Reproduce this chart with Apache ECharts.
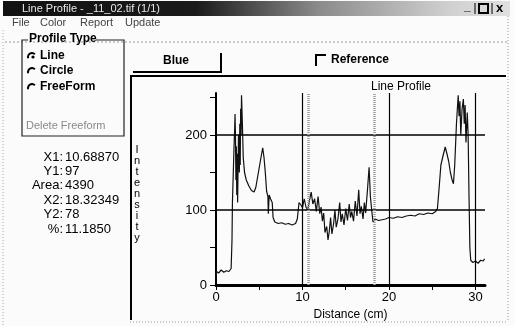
<!DOCTYPE html>
<html>
<head>
<meta charset="utf-8">
<script src="https://cdn.jsdelivr.net/npm/echarts@6/dist/echarts.min.js"></script>
<style>
  html, body { margin: 0; padding: 0; background: #fbfbfb; }
  #chart { width: 515px; height: 326px; }
</style>
</head>
<body>
<div id="chart"></div>
<script>
// profile data
const distance = [0.0, 0.05, 0.3, 0.6, 0.9, 1.2, 1.5, 1.75, 1.85, 1.9,
  2.0, 2.1, 2.15, 2.2, 2.25, 2.3, 2.35, 2.4, 2.45, 2.5,
  2.6, 2.7, 2.75, 2.8, 2.85, 2.9, 2.95, 3.05, 3.15, 3.3,
  3.5, 3.8, 4.1, 4.4, 4.6, 4.9, 5.2, 5.4, 5.55, 5.7,
  5.85, 6.0, 6.05, 6.15, 6.3, 6.5, 6.6, 6.8, 7.2, 7.6,
  8.0, 8.4, 8.8, 9.2, 9.4, 9.6, 9.8, 10.0, 10.2, 10.4,
  10.6, 10.8, 11.0, 11.2, 11.4, 11.6, 11.8, 12.0, 12.15, 12.3,
  12.45, 12.6, 12.8, 12.95, 13.1, 13.25, 13.4, 13.6, 13.75, 13.9,
  14.1, 14.3, 14.45, 14.6, 14.8, 15.0, 15.2, 15.4, 15.55, 15.7,
  15.9, 16.1, 16.3, 16.5, 16.65, 16.8, 17.0, 17.15, 17.3, 17.5,
  17.7, 17.85, 18.0, 18.15, 18.4, 18.8, 19.2, 19.6, 20.0, 20.5,
  21.0, 21.5, 22.0, 22.5, 23.0, 23.5, 24.0, 24.5, 25.0, 25.4,
  25.6, 25.8, 26.0, 26.2, 26.5, 26.7, 26.9, 27.1, 27.3, 27.45,
  27.6, 27.8, 28.0, 28.1, 28.2, 28.3, 28.45, 28.6, 28.7, 28.8,
  28.9, 29.05, 29.15, 29.25, 29.35, 29.45, 29.7, 30.0, 30.3, 30.6,
  30.9, 31.05];
const intensity = [8, 18, 16, 20, 17, 19, 18, 22, 60, 110,
  150, 190, 205, 228, 200, 140, 185, 120, 175, 110,
  200, 150, 215, 160, 235, 200, 253, 215, 170, 150,
  140, 132, 126, 124, 130, 150, 170, 183, 170, 150,
  125, 118, 95, 120, 115, 110, 90, 84, 82, 83,
  81, 82, 80, 82, 88, 110, 107, 103, 115, 104,
  100, 112, 124, 108, 115, 98, 118, 95, 104, 85,
  96, 70, 78, 60, 72, 90, 68, 82, 100, 77,
  88, 110, 84, 95, 80, 102, 86, 108, 90, 98,
  85, 112, 92, 127, 95, 105, 88, 110, 96, 125,
  157, 118, 100, 84, 88, 86, 87, 88, 90, 89,
  91, 90, 92, 93, 92, 95, 94, 96, 95, 98,
  102, 130, 160, 170, 184, 175, 165, 150, 140, 135,
  160, 215, 253, 225, 245, 200, 235, 248, 215, 240,
  190, 230, 200, 120, 50, 33, 30, 32, 29, 33,
  32, 35];

const xLabels = [0, 10, 20, 30];
const yLabels = [0, 100, 200];
const xGrid = [10, 20, 30];
const yGrid = [100, 200];
const cursors = [10.68870, 18.32349];   // X1, X2

const infoNames = ['X1', 'Y1', 'Area', 'X2', 'Y2', '%'];
const infoValues = ['10.68870', '97', '4390', '18.32349', '78', '11.1850'];
const profileTypes = ['Line', 'Circle', 'FreeForm'];
const menuItems = ['File', 'Color', 'Report', 'Update'];

const chart = echarts.init(document.getElementById('chart'));

const font = '"Liberation Sans", Arial, sans-serif';
const narrow = '"Liberation Sans Narrow", "Liberation Sans", sans-serif';
const graphics = [];

// title bar
graphics.push({
  type: 'rect', shape: { x: 3, y: 1, width: 507, height: 15 },
  style: { fill: { type: 'linear', x: 0, y: 0, x2: 1, y2: 0,
    colorStops: [{ offset: 0, color: '#111' }, { offset: 0.38, color: '#1a1a1a' },
                 { offset: 0.62, color: '#8a8a8a' }, { offset: 0.88, color: '#d0d0d0' }, { offset: 1, color: '#e0e0e0' }] } }
});
graphics.push({ type: 'text', left: 22, top: 3,
  style: { text: 'Line Profile - _11_02.tif (1/1)', fill: '#e8e8e8', font: '11px ' + font } });
graphics.push({ type: 'text', left: 464, top: 1, style: { text: '_', fill: '#000', font: 'bold 12px ' + font } });
graphics.push({ type: 'rect', shape: { x: 479, y: 4, width: 9, height: 9 }, style: { fill: 'none', stroke: '#000', lineWidth: 2 } });
graphics.push({ type: 'text', left: 496, top: 2, style: { text: 'x', fill: '#000', font: 'bold 13px ' + font } });
graphics.push({ type: 'line', shape: { x1: 475, y1: 3, x2: 475, y2: 14 }, style: { stroke: '#000', lineWidth: 1 } });
graphics.push({ type: 'line', shape: { x1: 492, y1: 3, x2: 492, y2: 14 }, style: { stroke: '#000', lineWidth: 1 } });

// menu
const menuX = [12, 40, 80, 125];
menuItems.forEach((m, i) => {
  graphics.push({ type: 'text', left: menuX[i], top: 17, style: { text: m, fill: '#444', font: '11px ' + font } });
});
graphics.push({ type: 'line', shape: { x1: 5, y1: 42, x2: 508, y2: 42 }, style: { stroke: '#999', lineWidth: 1, lineDash: [2, 2] } });

// window borders (dotted)
graphics.push({ type: 'line', shape: { x1: 3, y1: 30, x2: 3, y2: 326 }, style: { stroke: '#aaa', lineWidth: 1, lineDash: [1, 2] } });
graphics.push({ type: 'line', shape: { x1: 508, y1: 16, x2: 508, y2: 322 }, style: { stroke: '#999', lineWidth: 1, lineDash: [1, 2] } });
graphics.push({ type: 'line', shape: { x1: 130, y1: 322, x2: 508, y2: 322 }, style: { stroke: '#999', lineWidth: 1, lineDash: [1, 2] } });

// Profile Type group box
graphics.push({ type: 'polyline', shape: { points: [[28, 40], [22, 40], [22, 136], [124, 136], [124, 40], [96, 40]] },
  style: { stroke: '#222', fill: 'none', lineWidth: 1.2 } });
graphics.push({ type: 'text', left: 29, top: 33, style: { text: 'Profile Type', fill: '#000', font: 'bold 12px ' + font } });
const radioY = [57, 72, 88];
profileTypes.forEach((p, i) => {
  graphics.push({ type: 'arc', shape: { cx: 32, cy: radioY[i], r: 4, startAngle: Math.PI * 0.9, endAngle: Math.PI * 1.75 },
    style: { stroke: '#000', lineWidth: 2, fill: 'none' } });
  if (i === 0) graphics.push({ type: 'circle', shape: { cx: 33, cy: radioY[i], r: 1.6 }, style: { fill: '#000' } });
  graphics.push({ type: 'text', left: 40, top: radioY[i] - 7, style: { text: p, fill: '#000', font: 'bold 12px ' + font } });
});
graphics.push({ type: 'text', left: 26, top: 120, style: { text: 'Delete Freeform', fill: '#888', font: '11px ' + font } });

// info values
infoNames.forEach((n, i) => {
  graphics.push({ type: 'text', x: 63, y: 157 + i * 14.4,
    style: { text: n + ':', fill: '#000', font: '13px ' + narrow, align: 'right', verticalAlign: 'middle' } });
  graphics.push({ type: 'text', x: 65, y: 157 + i * 14.4,
    style: { text: infoValues[i], fill: '#000', font: '13px ' + narrow, align: 'left', verticalAlign: 'middle' } });
});

// tab + reference checkbox + panel frame
graphics.push({ type: 'polyline', shape: { points: [[133, 72], [221, 72], [221, 53]] }, style: { stroke: '#000', fill: 'none', lineWidth: 2 } });
graphics.push({ type: 'text', x: 176, y: 61, style: { text: 'Blue', fill: '#000', font: 'bold 12px ' + font, align: 'center', verticalAlign: 'middle' } });
graphics.push({ type: 'polyline', shape: { points: [[316, 66], [316, 55], [326, 55]] }, style: { stroke: '#000', fill: 'none', lineWidth: 2 } });
graphics.push({ type: 'text', left: 331, top: 54, style: { text: 'Reference', fill: '#000', font: 'bold 12px ' + font } });
graphics.push({ type: 'polyline', shape: { points: [[131, 320], [131, 76], [506, 76]] }, style: { stroke: '#000', fill: 'none', lineWidth: 2 } });
graphics.push({ type: 'text', x: 137, y: 194,
  style: { text: 'Intensity'.split('').join('\n'), fill: '#000', font: '11px ' + font, align: 'center', verticalAlign: 'middle', lineHeight: 11 } });

const lineData = distance.map((d, i) => [d, intensity[i]]);

chart.setOption({
  animation: false,
  backgroundColor: '#fbfbfb',
  title: {
    text: 'Line Profile', left: 366, top: 76,
    textStyle: { fontSize: 12, fontWeight: 'normal', color: '#000', fontFamily: font }
  },
  grid: { left: 216, right: 30, top: 93, bottom: 41 },
  xAxis: {
    type: 'value', min: 0, max: 31.1, interval: 5,
    name: 'Distance (cm)', nameLocation: 'middle', nameGap: 22,
    nameTextStyle: { fontSize: 12, color: '#000', fontFamily: font },
    axisLine: { lineStyle: { color: '#000', width: 3 } },
    axisTick: { length: 5, lineStyle: { color: '#000', width: 1 } },
    axisLabel: {
      color: '#000', fontSize: 13, fontFamily: font, margin: 6, showMaxLabel: false,
      formatter: v => (xLabels.indexOf(v) >= 0 ? String(v) : '')
    },
    splitLine: { show: false }
  },
  yAxis: {
    type: 'value', min: 0, max: 256, interval: 50,
    axisLine: { show: true, lineStyle: { color: '#000', width: 2 } },
    axisTick: { show: true, length: 6, lineStyle: { color: '#000', width: 1 } },
    axisLabel: {
      color: '#000', fontSize: 13, fontFamily: font, margin: 9, showMaxLabel: false,
      formatter: v => (yLabels.indexOf(v) >= 0 ? String(v) : '')
    },
    splitLine: { show: false }
  },
  series: [{
    type: 'line',
    data: lineData,
    showSymbol: false,
    lineStyle: { color: '#111', width: 1.2 },
    markLine: {
      silent: true, symbol: 'none', label: { show: false },
      data: [
        ...xGrid.map(v => ({ xAxis: v, lineStyle: { color: '#000', width: 1.2, type: 'solid' } })),
        ...yGrid.map(v => ({ yAxis: v, lineStyle: { color: '#000', width: 1.5, type: 'solid' } })),
        ...cursors.map(v => ({ xAxis: v, lineStyle: { color: '#999', width: 2.5, type: [1, 1] } }))
      ]
    }
  }],
  graphic: graphics
});
</script>
</body>
</html>
